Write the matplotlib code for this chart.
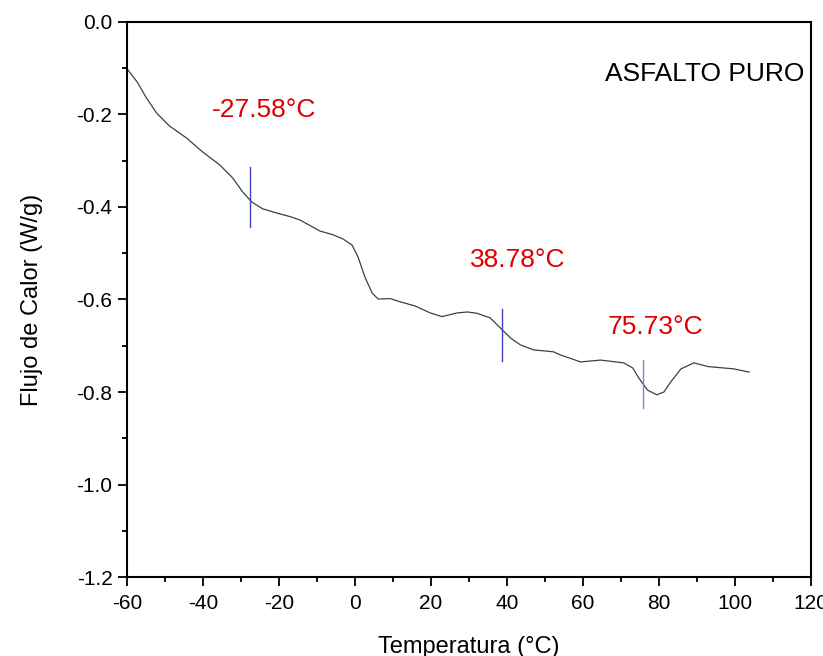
import matplotlib
matplotlib.use("Agg")
import matplotlib.pyplot as plt
from matplotlib.ticker import MultipleLocator, FormatStrFormatter

plt.rcParams["font.family"] = ["Liberation Sans", "DejaVu Sans"]
plt.rcParams["axes.unicode_minus"] = False

# curva DSC
temp = [-59.9, -57.3, -54.9, -52.2, -48.8, -44.3, -40.1, -35.6, -32.2, -29.6, -27.2,
        -24.3, -20.6, -17.0, -14.5, -9.2, -5.8, -3.2, -0.8, 0.8, 2.6, 4.5, 6.1, 9.2, 11.9,
        15.8, 19.8, 22.9, 26.9, 29.6, 32.2, 35.6, 38.3, 40.9, 43.5, 47.0, 52.2, 54.1,
        59.4, 64.6, 70.7, 73.1, 74.7, 77.0, 79.4, 81.3, 83.1, 85.8, 89.2, 92.9,
        99.7, 103.7]
flujo = [-0.102, -0.130, -0.164, -0.197, -0.225, -0.251, -0.281, -0.309, -0.337, -0.367, -0.389,
         -0.404, -0.413, -0.421, -0.428, -0.452, -0.46, -0.469, -0.482, -0.508, -0.551, -0.586, -0.599, -0.598, -0.605,
         -0.614, -0.629, -0.637, -0.629, -0.627, -0.63, -0.64, -0.662, -0.683, -0.698, -0.709, -0.713, -0.72,
         -0.735, -0.731, -0.737, -0.748, -0.770, -0.796, -0.806, -0.8, -0.778, -0.75, -0.737, -0.745,
         -0.75, -0.757]

tg = [-27.58, 38.78, 75.73]
tg_txt = ["-27.58°C", "38.78°C", "75.73°C"]
tg_ymin = [-0.443, -0.733, -0.835]
tg_ymax = [-0.314, -0.62, -0.731]
txt_x = [-24.0, 42.7, 79.0]
txt_y = [-0.19, -0.514, -0.66]
tg_col = ["#4040c8", "#4040c8", "#8080dd"]

fig = plt.figure(figsize=(8.23, 6.56), dpi=100)
ax = fig.add_axes([0.1543, 0.1204, 0.8311, 0.8461])
ax.plot(temp, flujo, color="#404040", lw=0.9)
for x, lo, hi, c in zip(tg, tg_ymin, tg_ymax, tg_col):
    ax.plot([x, x], [lo, hi], color=c, lw=1.0)
for x, y, s in zip(txt_x, txt_y, tg_txt):
    ax.text(x, y, s, color="#dd0000", fontsize=19, ha="center", va="center")
ax.text(0.991, 0.906, "ASFALTO PURO", transform=ax.transAxes, fontsize=19, ha="right", va="center")

ax.set_xlim(-60, 120)
ax.set_ylim(-1.2, 0.0)
ax.xaxis.set_major_locator(MultipleLocator(20)); ax.xaxis.set_minor_locator(MultipleLocator(10))
ax.yaxis.set_major_locator(MultipleLocator(0.2)); ax.yaxis.set_minor_locator(MultipleLocator(0.1))
ax.yaxis.set_major_formatter(FormatStrFormatter("%.1f"))
for sp in ax.spines.values():
    sp.set_linewidth(1.5)
ax.tick_params(which="major", direction="out", length=6.5, width=1.3, labelsize=15)
ax.tick_params(which="minor", direction="out", length=3.6, width=1.3)
ax.tick_params(axis="x", pad=6); ax.tick_params(axis="y", pad=4)
ax.set_xlabel("Temperatura (°C)", fontsize=17, labelpad=16)
ax.set_ylabel("Flujo de Calor (W/g)", fontsize=17, labelpad=24)
fig.savefig("out.png", dpi=100)
